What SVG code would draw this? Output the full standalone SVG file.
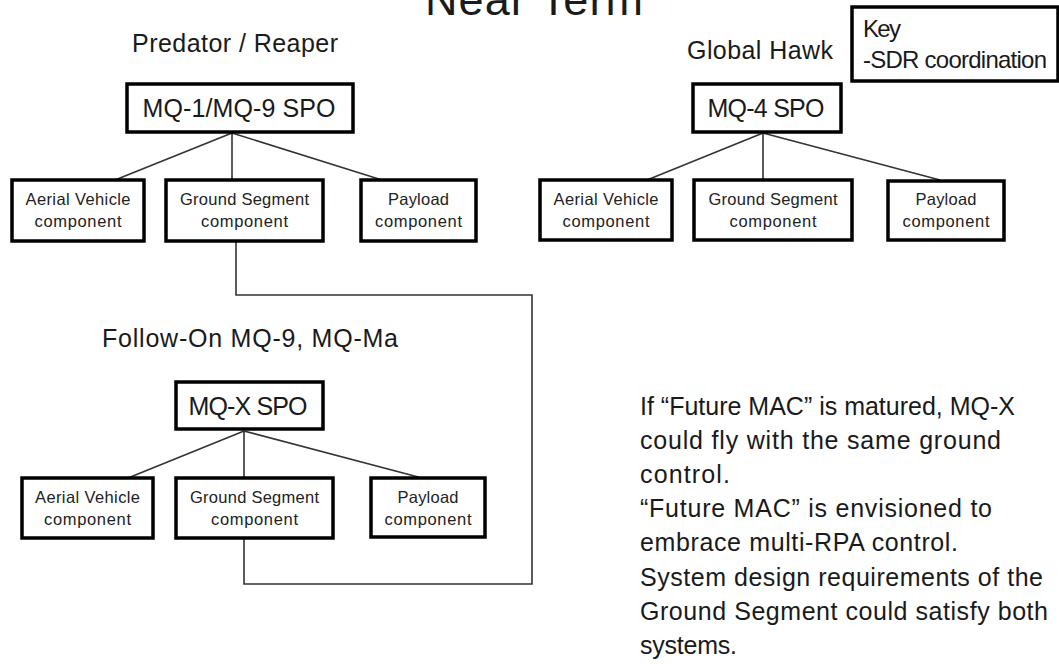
<svg xmlns="http://www.w3.org/2000/svg" width="1059" height="664" viewBox="0 0 1059 664">
<style>
text{font-family:"Liberation Sans",Arial,sans-serif;fill:#1a1a1a}
.box{fill:#fff;stroke:#000;stroke-width:3.5}
.spo{font-size:25px;text-anchor:middle}
.cmp{font-size:16.5px;text-anchor:middle;fill:#222}
.hdr{font-size:25px}
.body{font-size:25px}
.ln{fill:none;stroke:#333;stroke-width:1.6}
</style>
<rect width="1059" height="664" fill="#fff"/>
<text x="534" y="15" font-size="45" text-anchor="middle" textLength="218">Near Term</text>

<g id="connectors">
<path class="ln" d="M232,133 L115,180 M232,133 L232,180 M232,133 L382,180"/>
<path class="ln" d="M763,133 L647,180 M763,133 L763,180 M763,133 L940,180"/>
<path class="ln" d="M244,431 L128,478 M244,431 L244,478 M244,431 L422,478"/>
<polyline class="ln" points="236,241 236,295 532,295 532,584 244,584 244,538"/>
</g>

<text class="hdr" x="132" y="52" textLength="206">Predator / Reaper</text>
<text class="hdr" x="687" y="59" textLength="146">Global Hawk</text>
<text class="hdr" x="102" y="347" textLength="296">Follow-On MQ-9, MQ-Ma</text>

<g id="key">
<rect class="box" x="852" y="7" width="206" height="74"/>
<text x="863" y="37" font-size="24" textLength="38">Key</text>
<text x="863" y="68" font-size="24" textLength="184">-SDR coordination</text>
</g>

<g id="mq1">
<rect class="box" x="127" y="84" width="226" height="48"/>
<text class="spo" x="239" y="117" textLength="193">MQ-1/MQ-9 SPO</text>
</g>
<g id="mq1-aerial">
<rect class="box" x="12" y="180" width="132" height="61"/>
<text class="cmp" x="78" y="205" textLength="105">Aerial Vehicle</text>
<text class="cmp" x="78" y="227" textLength="87">component</text>
</g>
<g id="mq1-ground">
<rect class="box" x="166" y="180" width="157" height="61"/>
<text class="cmp" x="244.5" y="205" textLength="129">Ground Segment</text>
<text class="cmp" x="244.5" y="227" textLength="87">component</text>
</g>
<g id="mq1-payload">
<rect class="box" x="361" y="180" width="115" height="61"/>
<text class="cmp" x="418.5" y="205" textLength="61">Payload</text>
<text class="cmp" x="418.5" y="227" textLength="87">component</text>
</g>

<g id="mq4">
<rect class="box" x="693" y="84" width="148" height="48"/>
<text class="spo" x="766" y="117" textLength="117">MQ-4 SPO</text>
</g>
<g id="mq4-aerial">
<rect class="box" x="540" y="180" width="132" height="60"/>
<text class="cmp" x="606" y="205" textLength="105">Aerial Vehicle</text>
<text class="cmp" x="606" y="227" textLength="87">component</text>
</g>
<g id="mq4-ground">
<rect class="box" x="694" y="180" width="158" height="60"/>
<text class="cmp" x="773" y="205" textLength="129">Ground Segment</text>
<text class="cmp" x="773" y="227" textLength="87">component</text>
</g>
<g id="mq4-payload">
<rect class="box" x="888" y="181" width="116" height="59"/>
<text class="cmp" x="946" y="205" textLength="61">Payload</text>
<text class="cmp" x="946" y="227" textLength="87">component</text>
</g>

<g id="mqx">
<rect class="box" x="176" y="382" width="147" height="47"/>
<text class="spo" x="248" y="415" textLength="119">MQ-X SPO</text>
</g>
<g id="mqx-aerial">
<rect class="box" x="22" y="478" width="131" height="60"/>
<text class="cmp" x="87.5" y="503" textLength="105">Aerial Vehicle</text>
<text class="cmp" x="87.5" y="525" textLength="87">component</text>
</g>
<g id="mqx-ground">
<rect class="box" x="176" y="478" width="157" height="60"/>
<text class="cmp" x="254.5" y="503" textLength="129">Ground Segment</text>
<text class="cmp" x="254.5" y="525" textLength="87">component</text>
</g>
<g id="mqx-payload">
<rect class="box" x="371" y="478" width="114" height="59"/>
<text class="cmp" x="428" y="503" textLength="61">Payload</text>
<text class="cmp" x="428" y="525" textLength="87">component</text>
</g>

<g id="note">
<text class="body" x="640" y="415" textLength="375">If “Future MAC” is matured, MQ-X</text>
<text class="body" x="640" y="449" textLength="361">could fly with the same ground</text>
<text class="body" x="640" y="483" textLength="90">control.</text>
<text class="body" x="640" y="517" textLength="352">“Future MAC” is envisioned to</text>
<text class="body" x="640" y="551" textLength="318">embrace multi-RPA control.</text>
<text class="body" x="640" y="586" textLength="403">System design requirements of the</text>
<text class="body" x="640" y="620" textLength="408">Ground Segment could satisfy both</text>
<text class="body" x="640" y="654" textLength="97">systems.</text>
</g>
</svg>
